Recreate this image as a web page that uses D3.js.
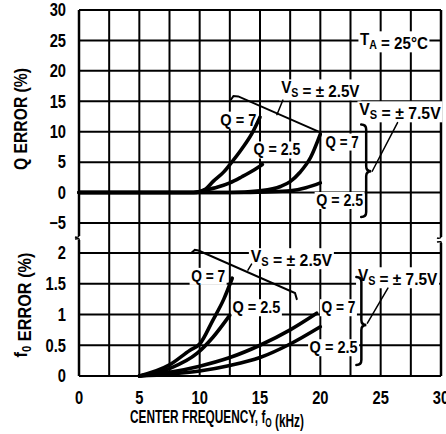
<!DOCTYPE html>
<html><head><meta charset="utf-8">
<script src="https://cdn.jsdelivr.net/npm/d3@7"></script>
<style>
html,body{margin:0;padding:0;background:#fff;}
svg{display:block;}
text{font-family:"Liberation Sans",Arial,sans-serif;font-weight:bold;fill:#000;}
</style></head><body>
<svg id="c" width="446" height="434"></svg>
<script>
// ---- data ----
const freqTicks = [0, 5, 10, 15, 20, 25, 30];
const freqGrid = [0, 2.5, 5, 7.5, 10, 12.5, 15, 17.5, 20, 22.5, 25, 27.5, 30];
const qTicks = [-5, 0, 5, 10, 15, 20, 25, 30];
const fErrTicks = [0, 0.5, 1, 1.5, 2];

// Q error (%) vs center frequency (kHz)
const qErrQ7Vs25  = [[0,0],[9.5,0],[10.5,0.6],[11.1,1.8],[12,3.4],[12.5,4.6],[13.5,7.2],[14.3,9.6],[15,12.4]];
const qErrQ25Vs25 = [[0,0],[9.5,0],[10.5,0.4],[11.5,0.9],[12.5,1.6],[13.5,2.6],[14.5,3.7],[15.2,4.6]];
const qErrQ7Vs75  = [[0,0],[12.5,0],[15,0.3],[16.7,1.0],[17.5,1.8],[18.3,3.3],[19.2,5.8],[20,9.6]];
const qErrQ25Vs75 = [[0,0],[13,0],[15.5,0.1],[17.5,0.3],[18.8,0.8],[20,1.6]];

// f0 error (%) vs center frequency (kHz)
const fErrQ7Vs25  = [[5,0],[7.5,0.18],[9.2,0.42],[10,0.52],[11.1,0.91],[12,1.25],[12.7,1.59]];
const fErrQ25Vs25 = [[5,0],[7.5,0.12],[9.8,0.37],[11.1,0.63],[12.5,0.99]];
const fErrQ7Vs75  = [[5,0],[7.5,0.06],[10,0.16],[12.5,0.3],[15,0.5],[17.5,0.75],[19.7,1.02]];
const fErrQ25Vs75 = [[5,0],[7.5,0.03],[10,0.08],[12.5,0.17],[15,0.3],[17.5,0.52],[20,0.8]];

// ---- drawing ----
const svg = d3.select("#c");
const x = d3.scaleLinear().domain([0,30]).range([79,441]);
const yQ = d3.scaleLinear().domain([-5,30]).range([223,10]);
const yF = d3.scaleLinear().domain([0,2]).range([376,253]);

const grid = svg.append("g").attr("stroke","#000").attr("stroke-width",2);
grid.selectAll(".v").data(freqGrid.filter(f=>f>0&&f<30)).join("line")
  .attr("x1",d=>x(d)).attr("x2",d=>x(d)).attr("y1",yQ(30)).attr("y2",yF(0));
grid.selectAll(".hq").data(qTicks).join("line")
  .attr("x1",x(0)).attr("x2",x(30)).attr("y1",d=>yQ(d)).attr("y2",d=>yQ(d));
grid.selectAll(".hf").data(fErrTicks).join("line")
  .attr("x1",x(0)).attr("x2",x(30)).attr("y1",d=>yF(d)).attr("y2",d=>yF(d));
const bw = 2.5;
[[x(0),236,240],[x(30),237,243]].forEach(([bx,g1,g2])=>{
  grid.append("line").attr("x1",bx).attr("x2",bx).attr("y1",yQ(30)).attr("y2",g1).attr("stroke-width",bw);
  grid.append("line").attr("x1",bx).attr("x2",bx).attr("y1",g2).attr("y2",yF(0)).attr("stroke-width",bw);
  grid.append("path").attr("fill","none").attr("stroke-width",1.5)
    .attr("d",`M${bx},${g1} q-1,2 -4,1 M${bx},${g2} q1,-2 -4,-1`);
});

const bgLayer = svg.append("g");
const curveLayer = svg.append("g");
const textLayer = svg.append("g");

// text helper: condensed by horizontal scaling
function txt(cx, cy, parts, opts){
  const fs = opts.fs || 16;
  const t = textLayer.append("text").attr("x",0).attr("y",0).attr("dy","0.36em")
    .attr("font-size",fs).attr("text-anchor",opts.anchor||"middle");
  parts.forEach(p=>{
    if(typeof p === "string") t.append("tspan").text(p);
    else t.append("tspan").attr("font-size",p.fs||fs*0.7).attr("dy",p.dy).text(p.s);
  });
  const b = t.node().getBBox();
  const s = opts.target ? opts.target/b.width : (opts.scale||0.85);
  const rot = opts.rotate ? ` rotate(${opts.rotate})` : "";
  t.attr("transform",`translate(${cx},${cy})${rot} scale(${s},1)`);
  if(opts.bg){
    const w = b.width*s;
    const left = (opts.anchor==="end") ? cx-w : cx-w/2;
    bgLayer.append("rect").attr("x",left-1.5).attr("y",cy+b.y+1).attr("width",w+3).attr("height",b.height-2).attr("fill","#fff");
  }
  return t;
}
const sub = (s)=>[{s:s,dy:4},{s:"",dy:-4}];

// tick labels
qTicks.forEach(d=>txt(66, yQ(d), [d<0?"\u2212"+(-d):String(d)], {fs:17.5, anchor:"end", scale:0.84}));
fErrTicks.forEach(d=>txt(66, yF(d), [String(d)], {fs:17.5, anchor:"end", scale:0.84}));
freqTicks.forEach(d=>txt(x(d), 398, [String(d)], {fs:17.5, scale:0.84}));

// axis titles
txt(21, 119, ["Q ERROR (%)"], {fs:17.5, rotate:-90, target:102});
txt(21, 305, ["f", ...sub("0"), " ERROR (%)"], {fs:17.5, rotate:-90, target:105});
txt(217, 416, ["CENTER FREQUENCY, f", ...sub("O"), " (kHz)"], {fs:18.5, target:174});

// curve labels
const vs = v => ["V", ...sub("S"), " = \u00b1 "+v];
const lf = 17;
txt(x(13.2), yQ(12.0), ["Q = 7"], {fs:lf, target:36, bg:true});
txt(x(16.4), yQ(7.1), ["Q = 2.5"], {fs:lf, target:47, bg:true});
txt(x(21.8), yQ(8.4), ["Q = 7"], {fs:lf, target:33, bg:true});
txt(x(21.6), yQ(-1.2), ["Q = 2.5"], {fs:lf, target:47, bg:true});
txt(x(20.0), yQ(17.3), vs("2.5V"), {fs:lf, target:79, bg:true});
txt(x(26.6), yQ(13.7), vs("7.5V"), {fs:lf, target:82, bg:true});
txt(x(26.1), yQ(25.2), ["T", ...sub("A"), " = 25\u00b0C"], {fs:lf, target:68, bg:true});

txt(x(10.7), yF(1.63), ["Q = 7"], {fs:lf, target:34, bg:true});
txt(x(14.7), yF(1.12), ["Q = 2.5"], {fs:lf, target:48, bg:true});
txt(x(21.5), yF(1.12), ["Q = 7"], {fs:lf, target:34, bg:true});
txt(x(21.1), yF(0.47), ["Q = 2.5"], {fs:lf, target:48, bg:true});
txt(x(17.6), yF(1.95), vs("2.5V"), {fs:lf, target:82, bg:true});
txt(x(26.4), yF(1.64), vs("7.5V"), {fs:lf, target:80, bg:true});

// curves
const lineQ = d3.line().x(d=>x(d[0])).y(d=>yQ(d[1])).curve(d3.curveMonotoneX);
const lineF = d3.line().x(d=>x(d[0])).y(d=>yF(d[1])).curve(d3.curveMonotoneX);
function draw(path){
  curveLayer.append("path").attr("d",path).attr("fill","none").attr("stroke","#000")
    .attr("stroke-width",3.6).attr("stroke-linecap","round");
}
[qErrQ7Vs25,qErrQ25Vs25,qErrQ7Vs75,qErrQ25Vs75].forEach(s=>draw(lineQ(s)));
[fErrQ7Vs25,fErrQ25Vs25,fErrQ7Vs75,fErrQ25Vs75].forEach(s=>draw(lineF(s)));

// annotation leaders
const ann = svg.append("g").attr("fill","none").attr("stroke","#000").attr("stroke-width",2).attr("stroke-linecap","round");
function pth(pts, yS){ return d3.line().x(d=>x(d[0])).y(d=>yS(d[1]))(pts); }
ann.append("path").attr("d",pth([[12.6,15.3],[12.8,15.85],[13.2,15.8],[20,9.9]],yQ));
ann.append("path").attr("d",pth([[16.4,12.8],[16.9,15.2]],yQ)).attr("stroke-width",1.5);
ann.append("path").attr("d",pth([[9.3,2.0],[9.6,2.05],[9.9,2.04],[17.9,1.35],[18.05,1.25]],yF));
ann.append("path").attr("d",pth([[14.0,1.72],[14.3,1.82]],yF)).attr("stroke-width",1.5);

function brace(bx, y1, y2, ym, w){
  return `M${bx-w},${y1} Q${bx},${y1} ${bx},${y1+w} L${bx},${ym-w} Q${bx},${ym} ${bx+w},${ym} Q${bx},${ym} ${bx},${ym+w} L${bx},${y2-w} Q${bx},${y2} ${bx-w},${y2}`;
}
ann.append("path").attr("d",brace(x(23.8),yQ(11.2),yQ(-4.0),yQ(3.5),5)).attr("stroke-width",2.5);
ann.append("path").attr("d",pth([[24.3,3.5],[26.4,11.5]],yQ)).attr("stroke-width",1.5);
ann.append("path").attr("d",brace(x(23.4),yF(1.61),yF(0.18),yF(0.83),5)).attr("stroke-width",2.5);
ann.append("path").attr("d",pth([[23.9,0.86],[25.6,1.43]],yF)).attr("stroke-width",1.5);
</script>
</body></html>
